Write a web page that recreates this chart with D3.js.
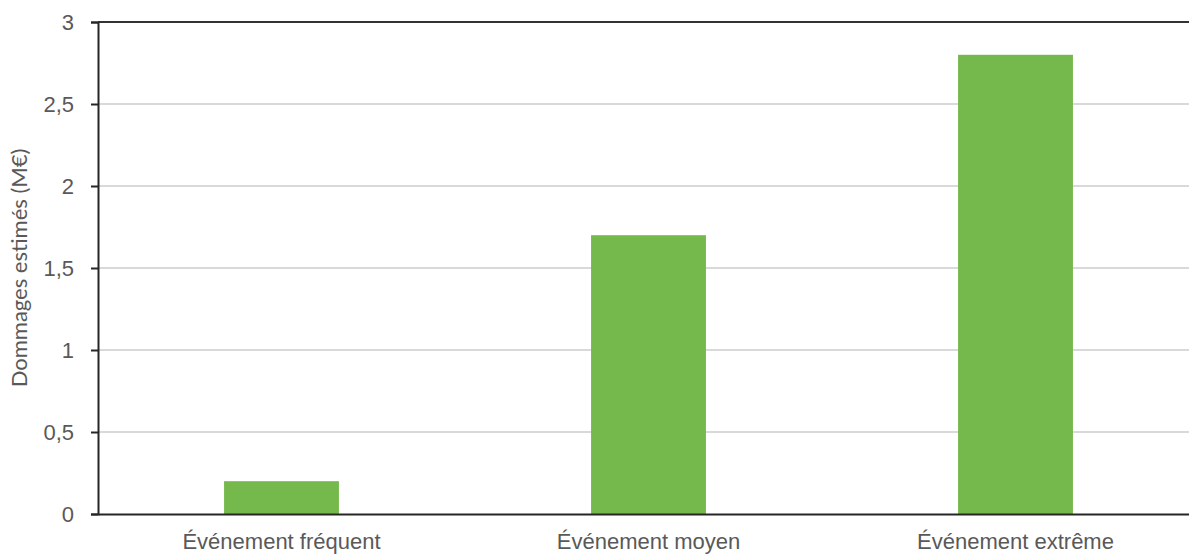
<!DOCTYPE html>
<html>
<head>
<meta charset="utf-8">
<script src="https://cdn.jsdelivr.net/npm/d3@7"></script>
<style>
  body { margin: 0; background: #fff; }
  svg { display: block; font-family: Lato, "Open Sans", sans-serif; }
</style>
</head>
<body>
<svg id="chart" width="1189" height="554"></svg>
<script>
const categories = ["Événement fréquent", "Événement moyen", "Événement extrême"];
const damages = [0.2, 1.7, 2.8];
const yTicks = [0, 0.5, 1, 1.5, 2, 2.5, 3];
const yTitle = "Dommages estimés (M€)";

const W = 1189, H = 554;
const plotLeft = 98, plotTop = 22, plotBottom = 514;
const FS = "22px";

const svg = d3.select("#chart");

const x = d3.scaleBand()
  .domain(categories)
  .range([plotLeft, 1199])
  .paddingInner(0.687)
  .paddingOuter(0.3435);

const y = d3.scaleLinear().domain([0, 3]).range([plotBottom, plotTop]);

const fmt = d => String(d).replace(".", ",");

// gridlines
svg.append("g")
  .selectAll("line")
  .data(yTicks.filter(t => t > 0 && t < 3))
  .join("line")
  .attr("x1", plotLeft).attr("x2", W)
  .attr("y1", d => y(d)).attr("y2", d => y(d))
  .attr("stroke", "#d9d9d9")
  .attr("stroke-width", 2);

// top border line
svg.append("line")
  .attr("x1", plotLeft).attr("x2", W)
  .attr("y1", y(3)).attr("y2", y(3))
  .attr("stroke", "#333").attr("stroke-width", 2);

// bars
svg.append("g")
  .selectAll("rect")
  .data(damages)
  .join("rect")
  .attr("x", (d, i) => x(categories[i]))
  .attr("width", x.bandwidth())
  .attr("y", d => y(d))
  .attr("height", d => y(0) - y(d))
  .attr("fill", "#75b84b");

// y axis
const yAxis = svg.append("g")
  .attr("transform", `translate(${plotLeft},0)`)
  .call(d3.axisLeft(y).tickValues(yTicks).tickFormat(fmt).tickSize(7).tickPadding(17));
yAxis.select(".domain").attr("stroke", "#262626").attr("stroke-width", 2);
yAxis.selectAll(".tick line").attr("stroke", "#262626").attr("stroke-width", 2);
yAxis.selectAll(".tick text").attr("fill", "#595959").style("font-size", FS);

// x axis
const xAxis = svg.append("g")
  .attr("transform", `translate(0,${plotBottom})`)
  .call(d3.axisBottom(x).tickSize(0).tickPadding(19));
xAxis.select(".domain").attr("stroke", "#262626").attr("stroke-width", 2);
xAxis.selectAll(".tick text").attr("fill", "#595959").style("font-size", FS);

// y title
svg.append("text")
  .attr("transform", `translate(27,${(plotTop + plotBottom) / 2}) rotate(-90)`)
  .attr("text-anchor", "middle")
  .attr("fill", "#595959")
  .style("font-size", FS)
  .text(yTitle);
</script>
</body>
</html>
